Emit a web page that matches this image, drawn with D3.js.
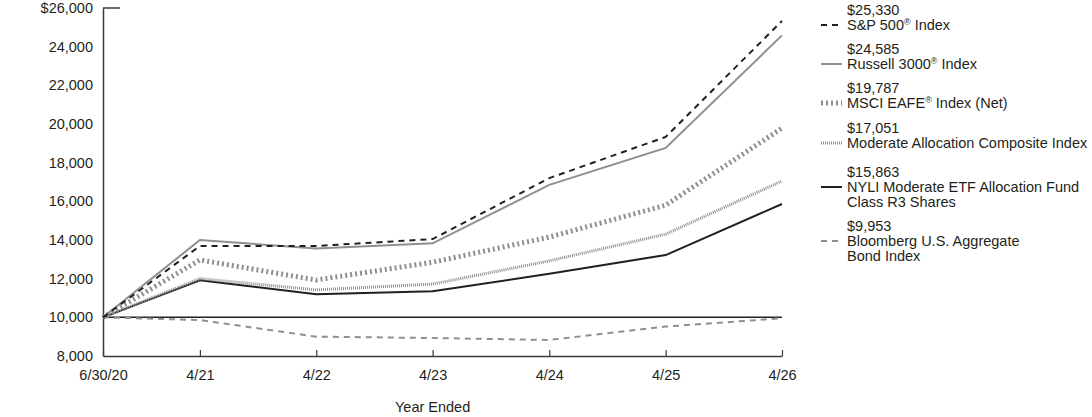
<!DOCTYPE html>
<html>
<head>
<meta charset="utf-8">
<style>
  body { margin: 0; background: #fff; }
  svg text { font-family: Arial, "Liberation Sans", sans-serif; fill: #231f20; }
</style>
</head>
<body>
<div id="viz"></div>
<script src="https://d3js.org/d3.v7.min.js"></script>
<script>
  // data
  const dates = ["2020-06-30", "2021-04-30", "2022-04-30", "2023-04-30", "2024-04-30", "2025-04-30", "2026-04-30"];
  const tickLabels = ["6/30/20", "4/21", "4/22", "4/23", "4/24", "4/25", "4/26"];

  const spValues        = [10000, 13690, 13690, 14050, 17200, 19330, 25330];
  const russellValues   = [10000, 14000, 13560, 13830, 16850, 18760, 24585];
  const msciValues      = [10000, 12970, 11930, 12850, 14150, 15800, 19787];
  const moderateValues  = [10000, 12000, 11420, 11720, 12920, 14300, 17051];
  const fundValues      = [10000, 11920, 11200, 11350, 12250, 13220, 15863];
  const bloombergValues = [10000, 9860, 9000, 8930, 8830, 9520, 9953];

  const yTicks = [8000, 10000, 12000, 14000, 16000, 18000, 20000, 22000, 24000, 26000];

  const black = "#231f20", gray = "#8f8f8f";
  const fs = "14.5px";

  const series = [
    { name: ["Bloomberg U.S. Aggregate", "Bond Index"], endLabel: "$9,953", values: bloombergValues,
      color: gray, width: 2, dash: "6,5" },
    { name: ["NYLI Moderate ETF Allocation Fund", "Class R3 Shares"], endLabel: "$15,863", values: fundValues,
      color: black, width: 2, dash: null },
    { name: ["Moderate Allocation Composite Index"], endLabel: "$17,051", values: moderateValues,
      color: gray, width: 3, dash: "1,1" },
    { name: ["MSCI EAFE", "®", " Index (Net)"], sup: true, endLabel: "$19,787", values: msciValues,
      color: gray, width: 5, dash: "2,3" },
    { name: ["Russell 3000", "®", " Index"], sup: true, endLabel: "$24,585", values: russellValues,
      color: gray, width: 2, dash: null },
    { name: ["S&P 500", "®", " Index"], sup: true, endLabel: "$25,330", values: spValues,
      color: black, width: 2, dash: "6,5" }
  ];

  const width = 1092, height = 417;
  const svg = d3.select("#viz").append("svg")
      .attr("width", width)
      .attr("height", height);

  const parse = d3.timeParse("%Y-%m-%d");
  const xDates = dates.map(parse);

  const x = d3.scaleTime()
      .domain([xDates[0], xDates[xDates.length - 1]])
      .range([103, 782]);
  const y = d3.scaleLinear()
      .domain([8000, 26000])
      .range([356, 8]);

  // y axis
  const yAxis = svg.append("g").attr("transform", "translate(103,0)")
      .call(d3.axisLeft(y).tickValues(yTicks).tickSize(0).tickPadding(10)
        .tickFormat(d => (d === 26000 ? "$" : "") + d3.format(",")(d)));
  yAxis.select(".domain").attr("stroke", "#3a3a3a").attr("stroke-width", 1.5);
  yAxis.selectAll("text").style("font-size", fs).attr("fill", black);

  svg.append("line")
      .attr("x1", 103).attr("x2", 120)
      .attr("y1", y(26000)).attr("y2", y(26000))
      .attr("stroke", "#3a3a3a").attr("stroke-width", 1.5);

  // x axis
  const xAxis = svg.append("g").attr("transform", "translate(0,356)")
      .call(d3.axisBottom(x).tickValues(xDates).tickSizeInner(-6).tickSizeOuter(0).tickPadding(14)
        .tickFormat((d, i) => tickLabels[i]));
  xAxis.select(".domain").attr("stroke", "#3a3a3a").attr("stroke-width", 1.5);
  xAxis.selectAll(".tick line").attr("stroke", "#3a3a3a").attr("stroke-width", 1.2);
  xAxis.selectAll("text").style("font-size", fs).attr("fill", black);

  svg.append("text")
      .attr("x", x(xDates[3]))
      .attr("y", 412)
      .attr("text-anchor", "middle")
      .style("font-size", fs)
      .text("Year Ended");

  // 10,000 reference line
  svg.append("line")
      .attr("x1", x(xDates[0])).attr("x2", x(xDates[xDates.length - 1]))
      .attr("y1", y(10000)).attr("y2", y(10000))
      .attr("stroke", black).attr("stroke-width", 1.5);

  const line = d3.line()
      .x((d, i) => x(xDates[i]))
      .y(d => y(d));

  svg.selectAll(".series")
      .data(series)
    .enter().append("path")
      .attr("class", "series")
      .attr("d", d => line(d.values))
      .attr("fill", "none")
      .attr("stroke", d => d.color)
      .attr("stroke-width", d => d.width)
      .attr("stroke-dasharray", d => d.dash)
      .attr("stroke-linejoin", "miter");

  // legend (top to bottom order)
  const legendTops = [15, 54, 93, 133, 177, 231];
  const legend = series.slice().reverse();

  legend.forEach((d, i) => {
    const g = svg.append("g").attr("transform", `translate(0,${legendTops[i]})`);
    g.append("text")
        .attr("x", 847).attr("y", 0)
        .style("font-size", fs)
        .text(d.endLabel);
    g.append("line")
        .attr("x1", 821).attr("x2", 842)
        .attr("y1", 10).attr("y2", 10)
        .attr("stroke", d.color)
        .attr("stroke-width", d.width)
        .attr("stroke-dasharray", d.dash);
    const t = g.append("text")
        .attr("x", 847).attr("y", 15)
        .style("font-size", fs);
    if (d.sup) {
      t.append("tspan").text(d.name[0]);
      t.append("tspan").text(d.name[1])
          .style("font-size", "9px")
          .attr("dy", -5);
      t.append("tspan").text(d.name[2]).attr("dy", 5);
    } else {
      d.name.forEach((n, j) => {
        t.append("tspan").attr("x", 847).attr("dy", j === 0 ? 0 : 15).text(n);
      });
    }
  });
</script>
</body>
</html>
